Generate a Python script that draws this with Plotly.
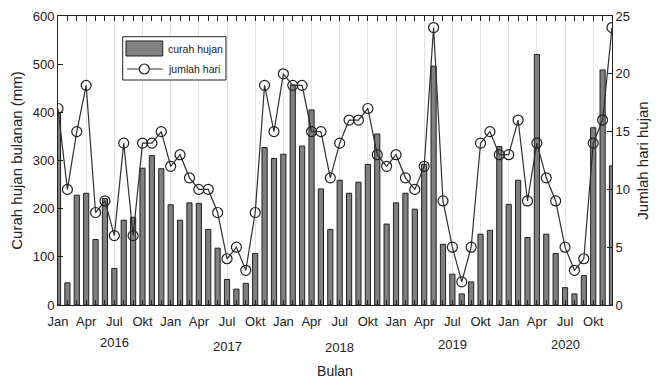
import plotly.graph_objects as go

years = [2016, 2017, 2018, 2019, 2020]
tick_labels = ["Jan", "Apr", "Jul", "Okt"]
series_names = ["curah hujan", "jumlah hari"]

curah_hujan = [400, 46, 228, 232, 136, 221, 76, 176, 182, 284, 310, 283,
               208, 176, 212, 211, 157, 118, 53, 33, 45, 107, 327, 304,
               313, 457, 330, 405, 241, 157, 259, 232, 255, 292, 355, 168,
               212, 232, 199, 292, 496, 126, 64, 23, 48, 147, 155, 329,
               209, 259, 140, 520, 147, 107, 36, 23, 61, 368, 488, 289]
jumlah_hari = [17, 10, 15, 19, 8, 9, 6, 14, 6, 14, 14, 15,
               12, 13, 11, 10, 10, 8, 4, 5, 3, 8, 19, 15,
               20, 19, 19, 15, 15, 11, 14, 16, 16, 17, 13, 12,
               13, 11, 10, 12, 24, 9, 5, 2, 5, 14, 15, 13,
               13, 16, 9, 14, 11, 9, 5, 3, 4, 14, 16, 24]

n = len(curah_hujan)
x = list(range(n))
FONT = "Liberation Sans, Arial, sans-serif"
BAR_COLOR = "#808080"
EDGE = "#202020"
LINE_COLOR = "#303030"

fig = go.Figure()
fig.add_trace(go.Bar(
    x=x, y=curah_hujan, name=series_names[0], width=0.55,
    marker=dict(color=BAR_COLOR, line=dict(color=EDGE, width=1)),
    yaxis="y"))
fig.add_trace(go.Scatter(
    x=x, y=jumlah_hari, name=series_names[1], mode="lines+markers",
    line=dict(color=LINE_COLOR, width=1.2),
    marker=dict(symbol="circle-open", size=10, color=EDGE, line=dict(width=1.2)),
    yaxis="y2"))

tickvals = [i for i in x if i % 3 == 0]
ticktext = [tick_labels[(i % 12) // 3] for i in tickvals]

fig.update_layout(
    width=658, height=381,
    margin=dict(l=58, r=46, t=16, b=76, autoexpand=False),
    paper_bgcolor="white", plot_bgcolor="white",
    font=dict(family=FONT, size=13, color="#222"),
    showlegend=False,
    xaxis=dict(range=[0, n - 1], tickmode="array", tickvals=tickvals, ticktext=ticktext,
               showgrid=True, gridcolor="#e3e3e3", gridwidth=1,
               ticks="inside", ticklen=5, tickcolor="#222",
               minor=dict(tickmode="linear", tick0=0, dtick=1, ticks="inside", ticklen=3,
                          tickcolor="#222", showgrid=False),
               showline=True, linecolor="#222", linewidth=1, mirror="allticks",
               zeroline=False, tickfont=dict(size=13), automargin=False,
               ticklabelstandoff=4,
               title=dict(text="Bulan", font=dict(size=14), standoff=38)),
    yaxis=dict(range=[0, 600], dtick=100, ticks="inside", ticklen=5, tickcolor="#222",
               showgrid=False, zeroline=False, showline=True, linecolor="#222", linewidth=1,
               tickfont=dict(size=13), automargin=False,
               title=dict(text="Curah hujan bulanan (mm)", font=dict(size=15), standoff=6)),
    yaxis2=dict(range=[0, 25], dtick=5, overlaying="y", side="right",
                ticks="inside", ticklen=5, tickcolor="#222",
                showgrid=False, zeroline=False, showline=True, linecolor="#222", linewidth=1,
                tickfont=dict(size=13), automargin=False,
                title=dict(text="Jumlah hari hujan", font=dict(size=15), standoff=8)),
    bargap=0.45,
)

# legend box (drawn as shapes so the bar patch looks like the original)
fig.add_shape(type="rect", xref="paper", yref="paper", x0=0.1168, x1=0.3032, y0=0.7785, y1=0.9284,
              fillcolor="white", line=dict(color="#222", width=1))
fig.add_shape(type="rect", xref="paper", yref="paper", x0=0.1227, x1=0.1890, y0=0.8616, y1=0.9135,
              fillcolor=BAR_COLOR, line=dict(color=EDGE, width=1))
fig.add_shape(type="line", xref="paper", yref="paper", x0=0.1245, x1=0.1890, y0=0.8166, y1=0.8166,
              line=dict(color=LINE_COLOR, width=1.2))
fig.add_shape(type="circle", xref="paper", yref="paper", x0=0.1468, x1=0.1648, y0=0.7993, y1=0.8339,
              fillcolor="white", line=dict(color=EDGE, width=1.2))
for txt, yy in zip(series_names, [0.8875, 0.8166]):
    fig.add_annotation(x=0.1944, y=yy, xref="paper", yref="paper", text=txt,
                       showarrow=False, xanchor="left", yanchor="middle",
                       font=dict(size=10.5))

year_y = [-0.13, -0.145, -0.148, -0.135, -0.135]
for k, yr in enumerate(years):
    fig.add_annotation(x=6 + 12 * k, y=year_y[k], xref="x", yref="paper",
                       text=str(yr), showarrow=False, font=dict(size=13),
                       yanchor="middle")

fig.write_html("out.html", config={"displayModeBar": False},
               post_script="document.body.style.margin='0';")
